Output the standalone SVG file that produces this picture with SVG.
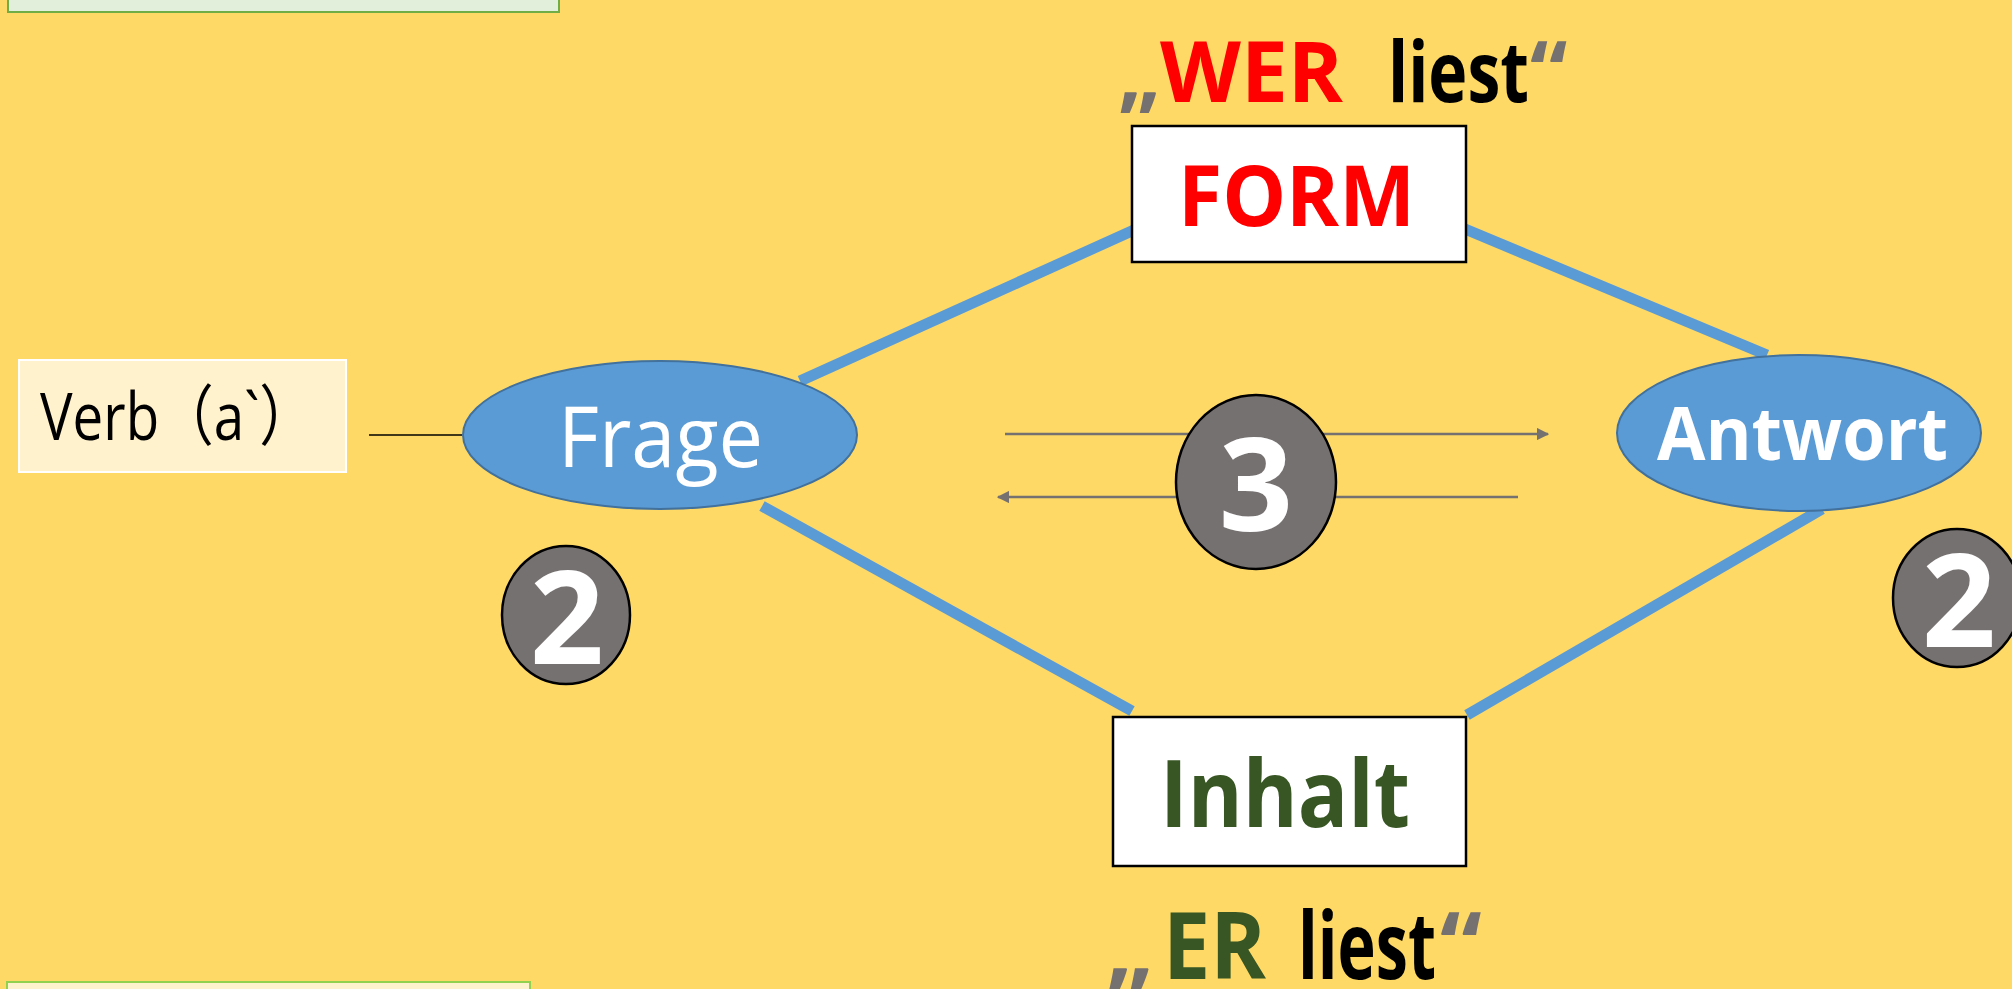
<svg xmlns="http://www.w3.org/2000/svg" width="2012" height="989" viewBox="0 0 2012 989">
<defs>
<style>
.t{font-family:"Open Sans","Noto Sans","Noto Sans CJK SC",sans-serif}
.b{font-weight:bold}
.blue{stroke:#5B9BD5;stroke-width:11;fill:none}
.ell{fill:#5B9BD5;stroke:#41719C;stroke-width:2}
.num{fill:#767171;stroke:#000;stroke-width:2.5}
.box{fill:#fff;stroke:#000;stroke-width:2.5}
.q{fill:#767171}
</style>
<marker id="ah" viewBox="0 0 10 10" refX="9" refY="5" markerWidth="5" markerHeight="5" orient="auto-start-reverse" markerUnits="strokeWidth">
<path d="M0,0 L10,5 L0,10 z" fill="#767171"/>
</marker>
</defs>
<rect width="2012" height="989" fill="#FED966"/>
<g id="top-box"><rect x="8" y="-10" width="551" height="22" fill="#E2EFDA" stroke="#70AD47" stroke-width="2"/></g>
<g id="bottom-box"><rect x="7" y="982" width="523" height="20" fill="#FFF2CC" stroke="#92D050" stroke-width="2"/></g>
<g id="connectors">
<line x1="369" y1="435" x2="462" y2="435" stroke="#000" stroke-width="1.5"/>
<line class="blue" x1="800" y1="381" x2="1134" y2="230"/>
<line class="blue" x1="1465" y1="229" x2="1767" y2="355"/>
<line class="blue" x1="762" y1="506" x2="1132" y2="711"/>
<line class="blue" x1="1467" y1="715" x2="1822" y2="509"/>
<line x1="1005" y1="434" x2="1548" y2="434" stroke="#767171" stroke-width="2.5" marker-end="url(#ah)"/>
<line x1="1518" y1="497" x2="998" y2="497" stroke="#767171" stroke-width="2.5" marker-end="url(#ah)"/>
</g>
<g id="verb">
<rect x="19" y="360" width="327" height="112" fill="#FFF2CC" stroke="#fff" stroke-width="2"/>
<text class="t" x="40" y="440" font-size="66" textLength="274" lengthAdjust="spacingAndGlyphs" fill="#000">Verb（a`）</text>
</g>
<g id="frage">
<ellipse class="ell" cx="660" cy="435" rx="197" ry="74"/>
<text class="t" x="558" y="467" font-size="84" textLength="205" lengthAdjust="spacingAndGlyphs" fill="#fff">Frage</text>
</g>
<g id="antwort">
<ellipse class="ell" cx="1799" cy="433" rx="182" ry="78"/>
<text class="t b" x="1657" y="460" font-size="74" textLength="291" lengthAdjust="spacingAndGlyphs" fill="#fff">Antwort</text>
</g>
<g id="form">
<rect class="box" x="1132" y="126" width="334" height="136"/>
<text class="t b" x="1178" y="226" font-size="85" textLength="237" lengthAdjust="spacingAndGlyphs" fill="#FF0000">FORM</text>
</g>
<g id="inhalt">
<rect class="box" x="1113" y="717" width="353" height="149"/>
<text class="t b" x="1160" y="827" font-size="94" textLength="250" lengthAdjust="spacingAndGlyphs" fill="#375623">Inhalt</text>
</g>
<g id="wer-liest">
<text class="t b" y="102" font-size="84"><tspan class="q" x="1118">„</tspan><tspan x="1160" fill="#FF0000" textLength="183" lengthAdjust="spacingAndGlyphs">WER</tspan><tspan x="1388" fill="#000" textLength="141" lengthAdjust="spacingAndGlyphs">liest</tspan><tspan class="q" x="1530">“</tspan></text>
</g>
<g id="er-liest">
<text class="t b" y="979" font-size="94"><tspan class="q" x="1106">„</tspan><tspan x="1163" fill="#375623" textLength="103" lengthAdjust="spacingAndGlyphs">ER</tspan><tspan x="1298" fill="#000" textLength="138" lengthAdjust="spacingAndGlyphs">liest</tspan><tspan class="q" x="1440">“</tspan></text>
</g>
<g id="num3">
<ellipse class="num" cx="1256" cy="482" rx="80" ry="87"/>
<text class="t b" x="1256" y="531" font-size="130" text-anchor="middle" fill="#fff">3</text>
</g>
<g id="num2-left">
<ellipse class="num" cx="566" cy="615" rx="64" ry="69"/>
<text class="t b" x="567" y="664" font-size="130" text-anchor="middle" fill="#fff">2</text>
</g>
<g id="num2-right">
<ellipse class="num" cx="1957" cy="598" rx="64" ry="69"/>
<text class="t b" x="1959" y="647" font-size="130" text-anchor="middle" fill="#fff">2</text>
</g>
</svg>
